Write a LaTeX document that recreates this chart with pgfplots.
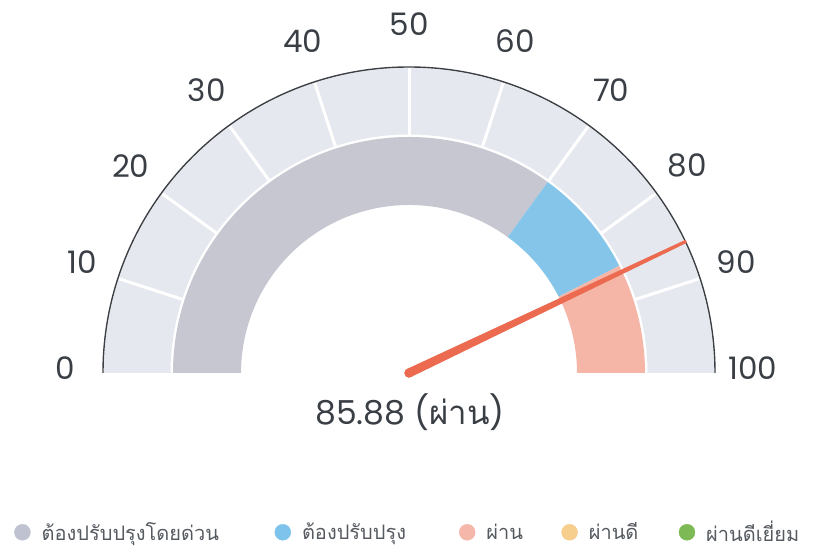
\documentclass[border=0pt]{standalone}
\usepackage{pgfplots}
\pgfplotsset{compat=1.18}
\usepackage{fontspec}
\setmainfont{Poppins}
\newfontfamily\thai[Script=Thai]{Loma}

\definecolor{bandLight}{HTML}{E5E8EF}
\definecolor{bandGrey}{HTML}{C6C7D0}
\definecolor{bandBlue}{HTML}{85C5EA}
\definecolor{bandPink}{HTML}{F5B6A7}
\definecolor{needleC}{HTML}{EB6A50}
\definecolor{arcC}{HTML}{3C4045}
\definecolor{labC}{HTML}{3A3F46}
\definecolor{legGrey}{HTML}{BFC2D0}
\definecolor{legBlue}{HTML}{7EC3EC}
\definecolor{legPink}{HTML}{F4B7A9}
\definecolor{legOrange}{HTML}{F6CE8E}
\definecolor{legGreen}{HTML}{7DBA55}
\definecolor{legText}{HTML}{555A60}

% gauge value (0-100 scale)
\def\gaugevalue{85.88}
\pgfmathsetmacro\na{180-1.8*\gaugevalue}

% annular sector: color, from value, to value, inner r, outer r
\newcommand\band[5]{%
  \fill[#1] (axis cs:{#5*cos(180-1.8*#2)},{#5*sin(180-1.8*#2)})
    arc[start angle={180-1.8*#2}, end angle={180-1.8*#3}, radius=#5pt]
    -- (axis cs:{#4*cos(180-1.8*#3)},{#4*sin(180-1.8*#3)})
    arc[start angle={180-1.8*#3}, end angle={180-1.8*#2}, radius=#4pt] -- cycle;}

\pgfplotsset{legcirc/.style={legend image code/.code={\fill[#1] (8pt,0pt) circle (8pt);}}}

\begin{document}
\begin{tikzpicture}
\begin{axis}[
  x=1pt, y=1pt,
  xmin=-409, xmax=406, ymin=-178, ymax=373,
  hide axis, clip=false,
  legend columns=5,
  legend style={at={(0.01718,0.034)}, anchor=west, draw=none, fill=none,
    inner sep=0pt, font=\thai\fontsize{20}{24}\selectfont\color{legText},
    nodes={inner xsep=0pt},
    /tikz/every odd column/.append style={column sep=11pt},
    /tikz/every even column/.append style={column sep=0pt}},
  legend cell align=left,
]
\addlegendimage{legcirc=legGrey}\addlegendentry[text width=233pt]{ต้องปรับปรุงโดยด่วน}
\addlegendimage{legcirc=legBlue}\addlegendentry[text width=157pt]{ต้องปรับปรุง}
\addlegendimage{legcirc=legPink}\addlegendentry[text width=75pt]{ผ่าน}
\addlegendimage{legcirc=legOrange}\addlegendentry[text width=90pt]{ผ่านดี}
\addlegendimage{legcirc=legGreen}\addlegendentry{ผ่านดีเยี่ยม}

\path (axis cs:-409,-178) rectangle (axis cs:406,373);

% outer light band with separators
\band{bandLight}{0}{100}{238.5}{305}
\pgfplotsinvokeforeach{10,20,...,90}{%
  \draw[white, line width=3pt] (axis cs:{238*cos(180-1.8*#1)},{238*sin(180-1.8*#1)})
    -- (axis cs:{305*cos(180-1.8*#1)},{305*sin(180-1.8*#1)});}
% outer arc
\draw[arcC, line width=1.4pt] (axis cs:-306,0) arc[start angle=180, end angle=0, radius=306pt];

% colored bands (thresholds 0, 70, 85, 100)
\band{bandGrey}{0}{70}{168}{236}
\band{bandBlue}{70}{85}{168}{236}
\band{bandPink}{85}{100}{168}{236}

% tick labels
\pgfplotsinvokeforeach{0,10,...,100}{%
  \node[text=labC, font=\fontsize{31}{36}\selectfont] at (axis cs:{344*cos(180-1.8*#1)},{344*sin(180-1.8*#1)+5}) {#1};}

% needle
\addplot[data cs=polar, fill=needleC, draw=none, forget plot]
  table[x expr={\na+\thisrow{da}}, y=r] {
da r
0.3 307
-0.3 307
-90 4.5
90 4.5
};
\addplot[only marks, mark=*, mark size=4.5pt, needleC, forget plot] coordinates {(0,0)};

% value text
\node[text=labC, font=\fontsize{33}{40}\selectfont] at (axis cs:1,-39) {85.88 ({\thai ผ่าน})};
\end{axis}
\end{tikzpicture}
\end{document}
